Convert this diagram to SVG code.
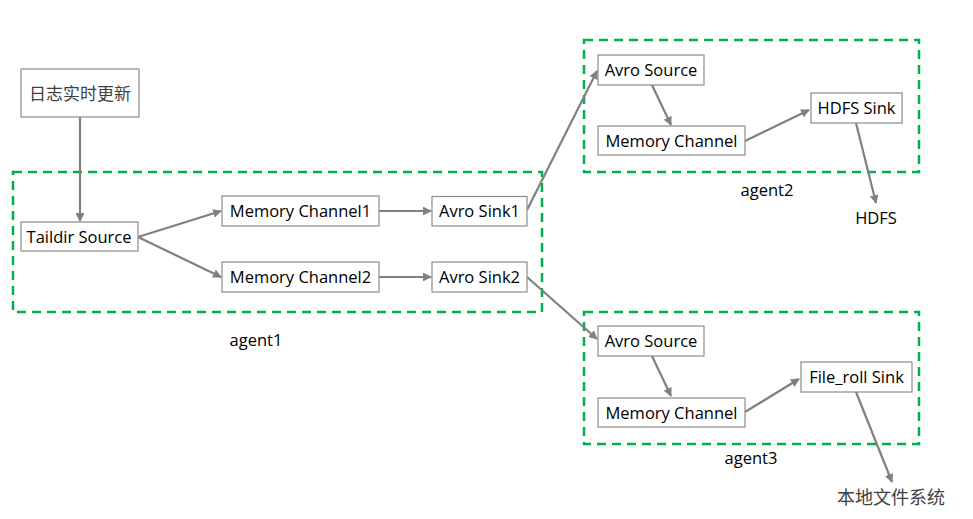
<svg xmlns="http://www.w3.org/2000/svg" width="973" height="519" viewBox="0 0 973 519">
<defs>
<marker id="ah" viewBox="0 0 10 10" refX="9" refY="5" markerWidth="4" markerHeight="4" orient="auto" markerUnits="strokeWidth">
<path d="M0,0 L10,5 L0,10 z" fill="#808080"/>
</marker>
<style>
.box{fill:#fff;stroke:#8c8c8c;stroke-width:1.2}
.t{font-family:"Open Sans","Liberation Sans",sans-serif;font-size:16.5px;fill:#000;text-anchor:middle}
.cn{font-family:"Noto Sans CJK SC",sans-serif;font-size:17px;fill:#404040;text-anchor:middle}
.grp{fill:none;stroke:#00B050;stroke-width:2.5;stroke-dasharray:9,6}
.c{fill:none;stroke:#808080;stroke-width:2.2;marker-end:url(#ah)}
</style>
</defs>
<rect width="973" height="519" fill="#fff"/>
<g id="groups">
<rect class="grp" x="13" y="172" width="529" height="140"/>
<rect class="grp" x="584" y="40" width="335" height="132"/>
<rect class="grp" x="584" y="312" width="335" height="132"/>
</g>
<g id="connectors">
<path class="c" d="M80,117 L80,221"/>
<path class="c" d="M138,237 L221,211"/>
<path class="c" d="M138,237 L221,277"/>
<path class="c" d="M379,211 L431,211"/>
<path class="c" d="M379,277 L431,277"/>
<path class="c" d="M527,210 L597,71"/>
<path class="c" d="M527,277 L597,339"/>
<path class="c" d="M652,85 L671,125"/>
<path class="c" d="M745,141 L809,110"/>
<path class="c" d="M856,123 L876,203"/>
<path class="c" d="M652,356 L671,396"/>
<path class="c" d="M745,412 L799,379"/>
<path class="c" d="M856,392 L892,482"/>
</g>
<g id="n-log"><rect class="box" x="21" y="69" width="118" height="48"/><text class="cn" x="80" y="100">日志实时更新</text></g>
<g id="n-taildir"><rect class="box" x="21" y="222" width="117" height="29"/><text class="t" x="79" y="242.5">Taildir Source</text></g>
<g id="n-mc1"><rect class="box" x="222" y="196" width="157" height="30"/><text class="t" x="300.5" y="217">Memory Channel1</text></g>
<g id="n-mc2"><rect class="box" x="222" y="262" width="157" height="30"/><text class="t" x="300.5" y="283">Memory Channel2</text></g>
<g id="n-as1"><rect class="box" x="432" y="196.5" width="95" height="29.5"/><text class="t" x="479.5" y="217">Avro Sink1</text></g>
<g id="n-as2"><rect class="box" x="432" y="262" width="95" height="30"/><text class="t" x="479.5" y="283">Avro Sink2</text></g>
<g id="n-a2src"><rect class="box" x="598" y="55" width="106" height="30"/><text class="t" x="651" y="76">Avro Source</text></g>
<g id="n-a2mc"><rect class="box" x="598" y="126" width="147" height="29"/><text class="t" x="671.5" y="146.5">Memory Channel</text></g>
<g id="n-hdfssink"><rect class="box" x="811" y="93" width="91" height="30"/><text class="t" x="856.5" y="114">HDFS Sink</text></g>
<g id="n-a3src"><rect class="box" x="598" y="326" width="106" height="30"/><text class="t" x="651" y="347">Avro Source</text></g>
<g id="n-a3mc"><rect class="box" x="598" y="398" width="147" height="29"/><text class="t" x="671.5" y="418.5">Memory Channel</text></g>
<g id="n-fileroll"><rect class="box" x="801" y="362" width="111" height="30"/><text class="t" x="856.5" y="383">File_roll Sink</text></g>
<g id="labels">
<text class="t" x="256" y="346">agent1</text>
<text class="t" x="767" y="196">agent2</text>
<text class="t" x="751" y="464">agent3</text>
<text class="t" x="876" y="224">HDFS</text>
<text class="cn" x="891" y="504" style="font-size:18px">本地文件系统</text>
</g>
</svg>
